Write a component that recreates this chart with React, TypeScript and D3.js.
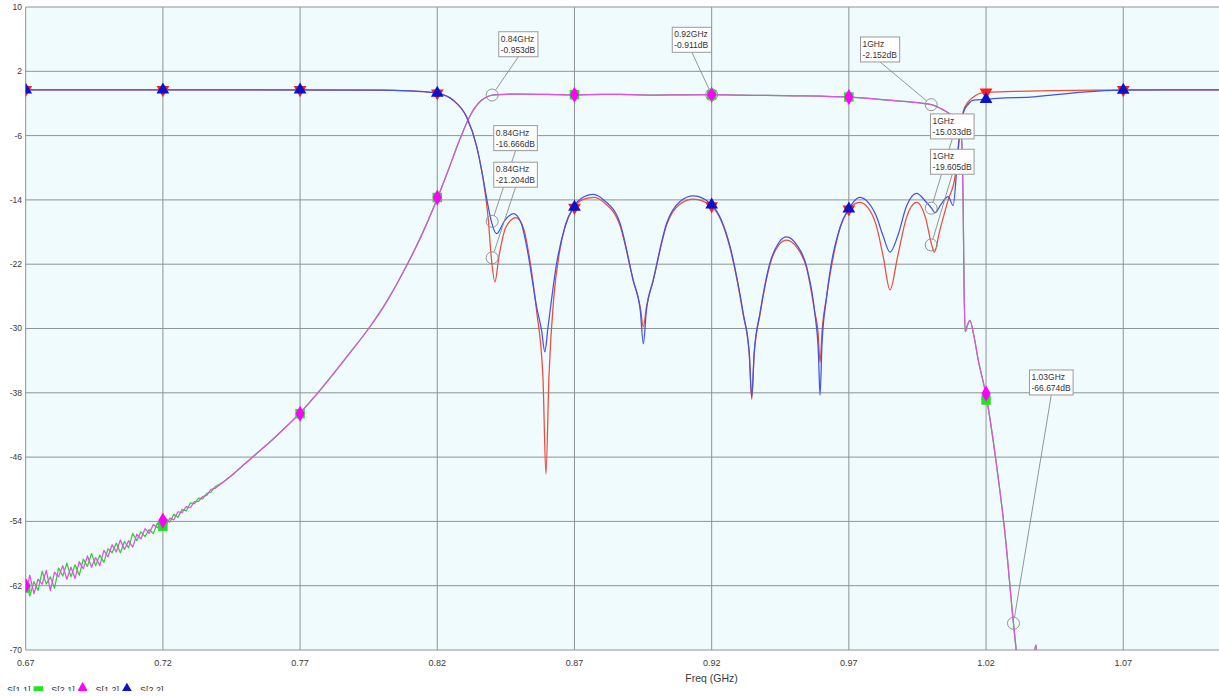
import React from "react";
import * as d3 from "d3";

type P = [number, number];

const W = 1219;
const H = 696;

const xTicks = [0.67, 0.72, 0.77, 0.82, 0.87, 0.92, 0.97, 1.02, 1.07];
const yTicks = [10, 2, -6, -14, -22, -30, -38, -46, -54, -62, -70];

// Low-frequency sweep points (noisy region of the transmission traces)
const noiseFreqs = [
  0.67, 0.6715, 0.673, 0.6745, 0.676, 0.6775, 0.679, 0.6805, 0.682, 0.6835,
  0.685, 0.6865, 0.688, 0.6895, 0.691, 0.6925, 0.694, 0.6955, 0.697, 0.6985,
  0.7, 0.7015, 0.703, 0.7045, 0.706, 0.7075, 0.709, 0.7105, 0.712, 0.7135,
  0.715, 0.7165, 0.718, 0.7195, 0.721, 0.7225, 0.724, 0.7255, 0.727, 0.7285,
  0.73, 0.7315, 0.733, 0.7345, 0.736, 0.7375, 0.739,
];
const s21Noise = [
  -61.5, -63.3, -61.5, -62.6, -60.2, -61.8, -60.9, -62.3, -59.8, -60.8,
  -59.2, -60.9, -59.4, -60.7, -58.7, -59.6, -58.0, -59.5, -58.2, -59.1,
  -57.4, -57.9, -56.7, -57.9, -56.5, -57.3, -55.5, -56.4, -55.3, -55.9,
  -55.0, -55.5, -54.2, -54.6, -53.6, -54.1, -53.1, -53.5, -52.5, -52.7,
  -51.7, -51.8, -51.1, -51.2, -50.5, -50.35, -49.7,
];
const s12Noise = [
  -62.9, -60.7, -63.0, -61.2, -61.8, -60.1, -62.6, -60.3, -60.9, -59.5,
  -61.2, -59.7, -61.1, -59.0, -59.9, -58.3, -59.7, -58.5, -59.5, -57.6,
  -58.4, -56.9, -57.8, -56.3, -57.5, -56.4, -57.2, -55.6, -56.2, -54.9,
  -55.5, -54.4, -54.8, -54.0, -54.6, -53.6, -53.8, -52.8, -52.9, -52.15,
  -52.3, -51.55, -51.5, -50.9, -50.75, -50.0, -49.9,
];

// Smooth part of the transmission traces (S21 and S12 coincide here)
const transmission: P[] = [
  [0.742, -49.1], [0.746, -48.0], [0.75, -46.8], [0.755, -45.3], [0.76, -43.8],
  [0.765, -42.2], [0.77, -40.5], [0.776, -38.2], [0.782, -35.7], [0.788, -33.1],
  [0.795, -30.0], [0.802, -26.4], [0.8088, -22.2], [0.814, -18.6], [0.8192, -14.5],
  [0.824, -10.3], [0.8283, -6.4], [0.832, -3.5], [0.8358, -1.7], [0.838, -1.2],
  [0.84, -0.95], [0.845, -0.86], [0.85, -0.84], [0.86, -0.88], [0.87, -0.92],
  [0.88, -0.87], [0.89, -0.9], [0.9, -0.95], [0.91, -0.92], [0.92, -0.91],
  [0.93, -0.97], [0.94, -1.0], [0.95, -1.05], [0.96, -1.1], [0.97, -1.2],
  [0.98, -1.45], [0.99, -1.75], [1.0, -2.15], [1.0044, -2.8], [1.008, -3.6],
  [1.0103, -4.4], [1.0112, -7.0], [1.0117, -16.0], [1.012, -25.0], [1.0124, -30.4],
  [1.0132, -29.6], [1.0141, -29.0], [1.0155, -30.8], [1.0172, -34.0], [1.02, -38.3],
  [1.0239, -47.2], [1.0269, -55.5], [1.03, -66.7], [1.0315, -71.5], [1.034, -76.0],
  [1.0365, -73.0], [1.0382, -69.4], [1.0392, -74.0], [1.045, -82.0], [1.06, -88.0],
  [1.08, -92.0], [1.105, -95.0],
];

const s11Data: P[] = [
  [0.67, -0.3], [0.75, -0.3], [0.8, -0.35], [0.81, -0.45], [0.816, -0.55],
  [0.82, -0.72], [0.8258, -1.6], [0.8307, -3.7], [0.8344, -7.4], [0.8368, -11.6],
  [0.8386, -16.5], [0.8397, -21.2], [0.841, -24.2], [0.8425, -21.0], [0.845, -17.4],
  [0.8487, -16.2], [0.8515, -17.6], [0.8535, -21.0], [0.8562, -27.8], [0.8585, -36.0],
  [0.8596, -48.1], [0.8607, -36.0], [0.8625, -26.0], [0.8645, -20.6], [0.8668, -17.0],
  [0.8696, -15.0], [0.8735, -13.9], [0.877, -13.7], [0.881, -14.4], [0.8866, -17.2],
  [0.8914, -24.0], [0.894, -27.4], [0.8951, -29.8], [0.8962, -27.4], [0.8987, -24.0],
  [0.9036, -17.1], [0.9085, -14.5], [0.9133, -13.9], [0.92, -14.8], [0.9267, -20.0],
  [0.9315, -28.3], [0.9337, -33.2], [0.9346, -38.8], [0.9355, -33.2], [0.9376, -28.3],
  [0.9412, -22.1], [0.9445, -19.6], [0.9473, -19.0], [0.951, -19.9], [0.9546, -22.5],
  [0.9576, -28.0], [0.9588, -30.5], [0.9595, -34.2], [0.9603, -30.0], [0.9619, -26.0],
  [0.9668, -17.5], [0.97, -15.2], [0.9739, -14.3], [0.977, -15.0], [0.98, -17.2],
  [0.9825, -21.0], [0.985, -25.2], [0.9878, -21.0], [0.991, -16.2], [0.9947, -14.3],
  [0.998, -16.3], [1.0002, -19.6], [1.0012, -20.5], [1.003, -18.0], [1.0062, -14.0],
  [1.0087, -11.1], [1.0103, -6.0], [1.0117, -3.0], [1.0135, -1.8], [1.0154, -1.2],
  [1.02, -0.6], [1.03, -0.5], [1.0444, -0.4], [1.06, -0.35], [1.07, -0.3], [1.105, -0.3],
];

const s22Data: P[] = [
  [0.67, -0.3], [0.75, -0.3], [0.8, -0.35], [0.81, -0.45], [0.816, -0.55],
  [0.82, -0.72], [0.8258, -1.6], [0.8307, -3.7], [0.8344, -7.4], [0.8368, -11.5],
  [0.8386, -14.9], [0.8397, -16.67], [0.8416, -18.2], [0.8445, -16.6], [0.8477, -15.7],
  [0.8505, -16.8], [0.8526, -19.8], [0.8562, -27.3], [0.858, -30.2], [0.8592, -32.9],
  [0.8603, -30.0], [0.8635, -21.9], [0.8665, -17.4], [0.8696, -14.9], [0.8735, -13.6],
  [0.8769, -13.3], [0.881, -14.1], [0.8866, -16.9], [0.8914, -24.0], [0.894, -27.8],
  [0.8951, -31.9], [0.8962, -27.8], [0.8987, -24.0], [0.9036, -16.9], [0.9085, -14.2],
  [0.9133, -13.5], [0.92, -14.6], [0.9267, -19.8], [0.9315, -28.1], [0.9337, -33.0],
  [0.9346, -38.5], [0.9355, -33.0], [0.9376, -28.1], [0.9412, -21.9], [0.9445, -19.3],
  [0.9473, -18.6], [0.951, -19.6], [0.9546, -22.3], [0.9576, -28.1], [0.9589, -33.0],
  [0.9595, -38.3], [0.9602, -32.0], [0.9619, -26.1], [0.9668, -17.4], [0.97, -15.1],
  [0.9739, -13.7], [0.977, -14.3], [0.98, -16.0], [0.9825, -18.5], [0.985, -20.5],
  [0.9878, -18.5], [0.991, -14.8], [0.9947, -13.2], [0.998, -14.2], [1.0002, -15.05],
  [1.0014, -15.6], [1.0035, -14.6], [1.0062, -13.6], [1.008, -14.7], [1.0093, -10.3],
  [1.0103, -6.1], [1.0117, -3.2], [1.0135, -2.1], [1.0154, -1.6], [1.02, -1.5],
  [1.027, -1.3], [1.035, -1.25], [1.044, -0.95], [1.0567, -0.55], [1.07, -0.35],
  [1.085, -0.3], [1.105, -0.3],
];

// Trace markers
const markerFreqs = [0.67, 0.72, 0.77, 0.82, 0.87, 0.92, 0.97, 1.02, 1.07];
const s11Marks = [-0.3, -0.3, -0.3, -0.72, -14.95, -14.75, -15.15, -0.6, -0.3];
const s21Marks = [-62.3, -54.6, -40.6, -13.7, -0.92, -0.91, -1.2, -38.9, -92];
const s12Marks = [-62.0, -53.9, -40.6, -13.7, -0.92, -0.91, -1.2, -38.1, -92];
const s22Marks = [-0.3, -0.3, -0.3, -0.72, -14.9, -14.6, -15.1, -1.5, -0.35];

// Marker readouts: frequency (GHz), level (dB), label box offset
const readoutFreqs = [0.84, 0.92, 0.84, 0.84, 1, 1, 1, 1.03];
const readoutValues = [-0.953, -0.911, -16.666, -21.204, -2.152, -15.033, -19.605, -66.674];
const readoutOffsets: P[] = [
  [6.6, -63.3], [-39.4, -67.4], [1.6, -95.7], [1.6, -95.6],
  [-70.7, -67.7], [-0.7, -94.3], [-0.7, -95.7], [16, -253.3],
];

const seriesNames = ["S[1,1]", "S[2,1]", "S[1,2]", "S[2,2]"];
const lineColors = ["#f04a3a", "#2fd02f", "#e34ee3", "#4453e0"];
const markColors = ["#ff1c1c", "#1ee61e", "#ff00ff", "#0a12cc"];

const FONT = "'Liberation Sans', Arial, sans-serif";

export default function App() {
  const x = d3.scaleLinear().domain([0.67, 1.1049]).range([25.7, 1219]);
  const y = d3.scaleLinear().domain([-70, 10]).range([650, 7]);
  const x0 = x(0.67);
  const x1 = x(1.1049);
  const yTop = y(10);
  const yBot = y(-70);

  const smooth = d3
    .line<P>()
    .x((d) => x(d[0]))
    .y((d) => y(d[1]))
    .curve(d3.curveMonotoneX);
  const jagged = d3
    .line<P>()
    .x((d) => x(d[0]))
    .y((d) => y(d[1]))
    .curve(d3.curveLinear);

  const noise21: P[] = noiseFreqs.map((f, i) => [f, s21Noise[i]] as P).concat([transmission[0]]);
  const noise12: P[] = noiseFreqs.map((f, i) => [f, s12Noise[i]] as P).concat([transmission[0]]);

  // paths per series, drawn in legend order
  const paths: { d: string; c: string }[][] = [
    [{ d: smooth(s11Data) || "", c: lineColors[0] }],
    [
      { d: jagged(noise21) || "", c: lineColors[1] },
      { d: smooth(transmission) || "", c: lineColors[1] },
    ],
    [
      { d: jagged(noise12) || "", c: lineColors[2] },
      { d: smooth(transmission) || "", c: lineColors[2] },
    ],
    [{ d: smooth(s22Data) || "", c: lineColors[3] }],
  ];
  const marks = [s11Marks, s21Marks, s12Marks, s22Marks];

  const triUp = d3.symbol().type(d3.symbolTriangle).size(70)()!;
  const square = d3.symbol().type(d3.symbolSquare).size(90)()!;
  const diamond = d3.symbol().type(d3.symbolDiamond).size(75)()!;
  const shapes = [triUp, square, diamond, triUp];
  const rot = [180, 0, 0, 0];

  const fs = 8.5;
  const readouts = readoutFreqs.map((f, i) => {
    const v = readoutValues[i];
    const px = x(f);
    const py = y(v);
    const l1 = `${f}GHz`;
    const l2 = `${v}dB`;
    const w = Math.max(l1.length, l2.length) * 4.4 + 4;
    const h = 25;
    const bx = px + readoutOffsets[i][0];
    const by = py + readoutOffsets[i][1];
    const ax = bx + w / 2;
    const ay = by + h;
    const dx = ax - px;
    const dy = ay - py;
    const len = Math.hypot(dx, dy);
    const r = 6;
    return { px, py, l1, l2, w, h, bx, by, ax, ay, ex: px + (dx / len) * r, ey: py + (dy / len) * r, r };
  });

  return (
    <div style={{ position: "absolute", left: 0, top: 0 }}>
      <svg width={W} height={H} style={{ display: "block", background: "#ffffff" }}>
        <defs>
          <clipPath id="plotClip">
            <rect x={x0} y={yTop} width={x1 - x0} height={yBot - yTop} />
          </clipPath>
          <clipPath id="legendClip">
            <rect x={0} y={670} width={W} height={21} />
          </clipPath>
        </defs>

        <rect x={x0} y={yTop} width={x1 - x0} height={yBot - yTop} fill="#effbfd" />

        {/* grid */}
        <g stroke="#8d9494" strokeWidth={1}>
          {yTicks.map((t) => (
            <line key={"h" + t} x1={x0} x2={x1} y1={y(t)} y2={y(t)} />
          ))}
          {xTicks.map((t) => (
            <line key={"v" + t} x1={x(t)} x2={x(t)} y1={yTop} y2={yBot} />
          ))}
        </g>

        {/* axis labels */}
        <g fontFamily={FONT} fontSize={8.5} fill="#3a3a3a">
          {yTicks.map((t) => (
            <text key={"yl" + t} x={22} y={y(t)} dy="0.35em" textAnchor="end">
              {t}
            </text>
          ))}
          {xTicks.map((t) => (
            <text key={"xl" + t} x={x(t)} y={666} textAnchor="middle" fontSize={9}>
              {d3.format(".2f")(t)}
            </text>
          ))}
          <text x={711.5} y={682} textAnchor="middle" fontSize={10.5}>
            Freq (GHz)
          </text>
        </g>

        {/* traces */}
        <g clipPath="url(#plotClip)">
          {paths.map((ps, i) =>
            ps.map((p, k) => (
              <path
                key={"s" + i + "-" + k}
                d={p.d}
                fill="none"
                stroke={p.c}
                strokeWidth={1.25}
                strokeLinejoin="round"
              />
            ))
          )}
          {marks.map((m, i) =>
            m.map((v, j) => (
              <path
                key={"m" + i + "-" + j}
                d={shapes[i]}
                fill={markColors[i]}
                transform={`translate(${x(markerFreqs[j])},${y(v)}) rotate(${rot[i]})`}
              />
            ))
          )}
        </g>

        {/* marker readouts */}
        <g>
          {readouts.map((r, i) => (
            <g key={"rl" + i}>
              <line x1={r.ax} y1={r.ay} x2={r.ex} y2={r.ey} stroke="#8a8a8a" strokeWidth={0.9} />
              <circle cx={r.px} cy={r.py} r={r.r} fill="none" stroke="#8a8a8a" strokeWidth={0.9} />
            </g>
          ))}
          {readouts.map((r, i) => (
            <g key={"rb" + i} fontFamily={FONT} fontSize={fs} fill="#333">
              <rect x={r.bx} y={r.by} width={r.w} height={r.h} fill="#ffffff" stroke="#9a9a9a" strokeWidth={1} />
              <text x={r.bx + 2} y={r.by + 10}>
                {r.l1}
              </text>
              <text x={r.bx + 2} y={r.by + 21}>
                {r.l2}
              </text>
            </g>
          ))}
        </g>

        {/* legend (cut off by the bottom of the view) */}
        <g clipPath="url(#legendClip)" fontFamily={FONT} fontSize={9} fill="#333">
          {seriesNames.map((n, i) => {
            const lx = -11 + i * 44.3;
            return (
              <g key={"lg" + i}>
                <path
                  d={shapes[i]}
                  fill={markColors[i]}
                  transform={`translate(${lx + 5},${i === 1 ? 691 : 690}) rotate(${rot[i]})`}
                />
                <text x={lx + 18} y={693}>
                  {n}
                </text>
              </g>
            );
          })}
        </g>
      </svg>
    </div>
  );
}
